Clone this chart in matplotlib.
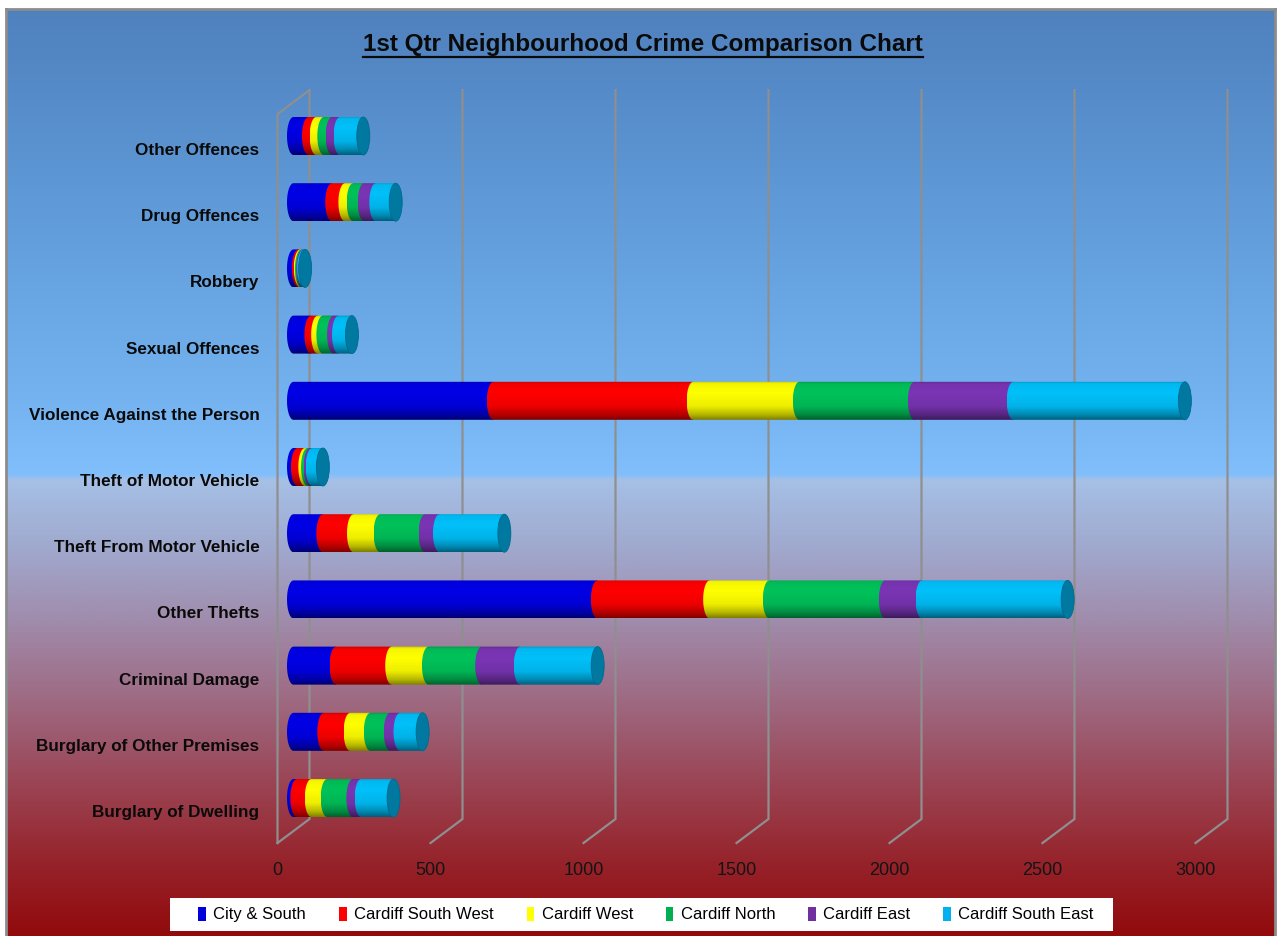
import numpy as np
import matplotlib
matplotlib.use('Agg')
import matplotlib.pyplot as plt
from matplotlib.patches import Ellipse, PathPatch, Patch, Rectangle
from matplotlib.path import Path
from matplotlib.lines import Line2D
from matplotlib.colors import to_rgb

# ---- data ----
categories = ['Burglary of Dwelling', 'Burglary of Other Premises', 'Criminal Damage',
              'Other Thefts', 'Theft From Motor Vehicle', 'Theft of Motor Vehicle',
              'Violence Against the Person', 'Sexual Offences', 'Robbery',
              'Drug Offences', 'Other Offences']
areas = ['City & South', 'Cardiff South West', 'Cardiff West',
         'Cardiff North', 'Cardiff East', 'Cardiff South East']

city_south = [11, 99, 139, 993, 96, 13, 653, 57, 16, 125, 49]
south_west = [47, 86, 182, 367, 100, 24, 653, 22, 6, 43, 25]
west = [52, 66, 120, 195, 87, 9, 347, 17, 4, 27, 25]
north = [84, 65, 174, 379, 147, 8, 376, 35, 4, 36, 27]
east = [27, 32, 126, 120, 47, 7, 323, 16, 3, 38, 26]
south_east = [106, 74, 253, 476, 212, 35, 561, 44, 5, 65, 76]
series = [city_south, south_west, west, north, east, south_east]

tick_values = [0, 500, 1000, 1500, 2000, 2500, 3000]

bar_colors = ['#0000E6', '#FF0000', '#FFFF00', '#00C25A', '#7A35B5', '#00C0FA']
legend_colors = ['#0000DD', '#FF0000', '#FFFF00', '#00B050', '#7030A0', '#00B0F0']
endcap_color = '#0078A0'

plt.rcParams['font.family'] = ['Liberation Sans', 'DejaVu Sans']

W, H = 1279, 936
fig = plt.figure(figsize=(W / 100, H / 100), dpi=100)
fig.patch.set_facecolor('white')

# ---- background gradient (blue -> light blue | lavender -> dark red) ----
ax_bg = fig.add_axes([6 / W, 0, (1275 - 6) / W, (H - 9) / H])
stop_y = [9, 100, 250, 400, 474, 480, 550, 620, 700, 780, 860, 936]
stop_c = np.array([(79, 129, 189), (86, 140, 202), (100, 160, 222), (116, 179, 240),
                   (128, 190, 252), (166, 192, 230), (160, 168, 205), (160, 140, 172),
                   (158, 106, 130), (155, 70, 86), (150, 36, 44), (145, 10, 12)]) / 255
yy = np.arange(9, 937)
grad = np.stack([np.interp(yy, stop_y, stop_c[:, c]) for c in range(3)], axis=1)
ax_bg.imshow(grad[:, None, :], aspect='auto', extent=(0, 1, 0, 1), interpolation='bilinear')
ax_bg.set_xticks([])
ax_bg.set_yticks([])
for side, sp in ax_bg.spines.items():
    sp.set_color('#8c8c8c')
    sp.set_linewidth(2)
ax_bg.spines['bottom'].set_visible(False)

# ---- main axes (front plane) ----
k = 0.306          # pixels per unit
row_px = 66.2      # pixels per category row
ax = fig.add_axes([277.5 / W, (H - 843) / H, 3000 * k / W, (843 - 82.8) / H])
ax.set_xlim(0, 3000)
ax.set_ylim(-0.483, 11)
ax.patch.set_alpha(0)
for sp in ax.spines.values():
    sp.set_visible(False)

# 3d depth offsets
back_dx, back_dy = 32 / k, 24 / row_px
mid_dx, mid_dy = 16 / k, 13 / row_px
floor_y = -0.483
top_y = 10.89

grid_kw = dict(color='#8f8f8f', lw=1.6, clip_on=False, zorder=1)
for v in tick_values:
    ax.plot([v + back_dx, v + back_dx, v], [top_y, floor_y + back_dy, floor_y], **grid_kw)
# left wall front edge
ax.plot([back_dx, 0, 0], [top_y, top_y - back_dy, floor_y], **grid_kw)

# ---- cylinders ----
t = np.linspace(0, 1, 60)
shade = np.interp(t, [0, 0.06, 0.3, 0.65, 0.86, 1], [0.78, 0.96, 1.0, 0.93, 0.72, 0.5])

bar_h = 38 / row_px
cap_a = 6.5 / k
cap_b = bar_h / 2
theta = np.linspace(np.pi / 2, 3 * np.pi / 2, 40)

for i in range(len(categories)):
    yc = i + mid_dy
    cum = 0
    for j, vals in enumerate(series):
        l = cum + mid_dx
        r = cum + vals[i] + mid_dx
        cum += vals[i]
        verts = [(l, yc - cap_b), (r, yc - cap_b), (r, yc + cap_b), (l, yc + cap_b)]
        verts += [(l + cap_a * np.cos(a), yc + cap_b * np.sin(a)) for a in theta]
        verts.append(verts[0])
        codes = [Path.MOVETO] + [Path.LINETO] * (len(verts) - 2) + [Path.CLOSEPOLY]
        clip = PathPatch(Path(verts, codes), transform=ax.transData)
        rgb = np.array(to_rgb(bar_colors[j]))
        img = shade[:, None, None] * rgb[None, None, :]
        im = ax.imshow(img, extent=(l - cap_a, r, yc - cap_b, yc + cap_b), aspect='auto',
                       origin='upper', interpolation='bilinear', zorder=3 + j * 0.01)
        im.set_clip_path(clip)
    ax.add_patch(Ellipse((cum + mid_dx, yc), 2 * cap_a, bar_h, facecolor=endcap_color,
                         edgecolor='#006a8e', lw=0.6, zorder=4))

ax.set_xlim(0, 3000)
ax.set_ylim(-0.483, 11)

ax.set_xticks(tick_values)
ax.set_xticklabels([str(v) for v in tick_values])
ax.tick_params(axis='x', length=0, pad=13.5, labelsize=13, labelcolor='#141414')
ax.set_yticks(range(len(categories)))
ax.set_yticklabels(categories, fontweight='bold')
ax.tick_params(axis='y', length=0, pad=13, labelsize=12.3, labelcolor='#0a0a0a')

# ---- title ----
title = fig.text(643 / W, 1 - 45 / H, '1st Qtr Neighbourhood Crime Comparison Chart',
                 ha='center', va='center', fontsize=17.5, fontweight='bold', color='#0a0a0a')

# ---- legend (white box + entries) ----
fig.add_artist(Rectangle((170 / W, 1 - 931 / H), (1113 - 170) / W, 33 / H,
                         transform=fig.transFigure, facecolor='white', edgecolor='none',
                         zorder=5))
handles = [Patch(facecolor=c, edgecolor='none') for c in legend_colors]
leg = fig.legend(handles, areas, loc='center', bbox_to_anchor=(646 / W, 1 - 914.5 / H),
                 ncol=6, frameon=False, fontsize=12, handlelength=0.45, handleheight=0.9,
                 handletextpad=0.45, columnspacing=1.97, borderpad=0.3, borderaxespad=0)
leg.set_zorder(6)

fig.canvas.draw()
bb = title.get_window_extent()
uy = 1 - 57 / H
fig.add_artist(Line2D([bb.x0 / W, bb.x1 / W], [uy, uy], color='#0a0a0a', lw=1.6,
                      transform=fig.transFigure))

fig.savefig('out.png', dpi=100)
